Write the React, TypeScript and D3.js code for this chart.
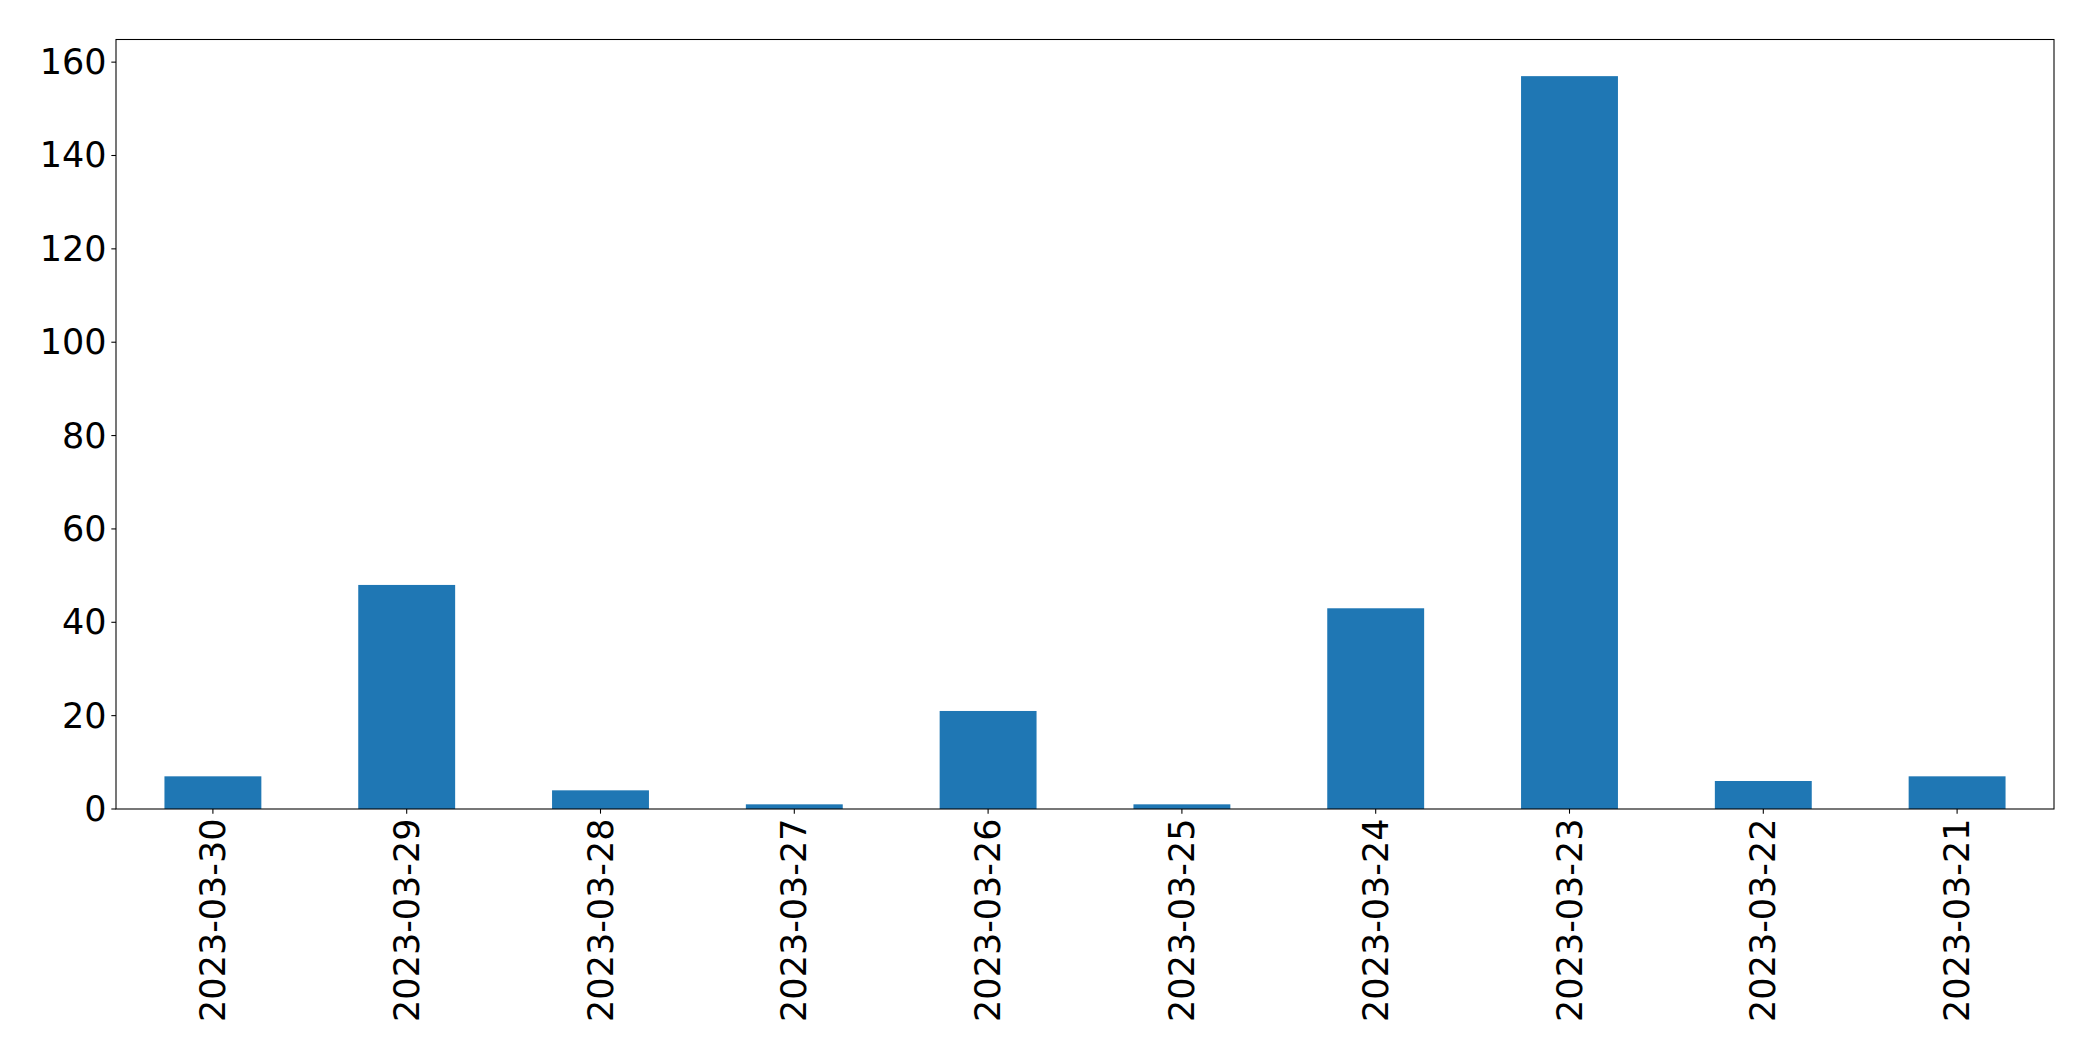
import React from "react";
import * as d3 from "d3";

const categories = ["2023-03-30","2023-03-29","2023-03-28","2023-03-27","2023-03-26","2023-03-25","2023-03-24","2023-03-23","2023-03-22","2023-03-21"];
const values = [7, 48, 4, 1, 21, 1, 43, 157, 6, 7];
const yTicks = [0, 20, 40, 60, 80, 100, 120, 140, 160];

const W = 2093, H = 1061;
const M = { left: 116, right: 2054, top: 39.5, bottom: 809 };
const FONT = "'DejaVu Sans', sans-serif";
const FS = 35;

export default function App() {
  const x = d3.scaleBand<string>().domain(categories).range([M.left, M.right]).paddingInner(0.5).paddingOuter(0.25);
  const y = d3.scaleLinear().domain([0, d3.max(values)! * 1.05]).range([M.bottom, M.top]);
  return (
    <svg width={W} height={H} style={{ position: "absolute", left: 0, top: 0, background: "#fff" }}>
      <rect x={0} y={0} width={W} height={H} fill="#fff" />
      {values.map((v, i) => (
        <rect key={i} x={x(categories[i])} y={y(v)} width={x.bandwidth()} height={y(0) - y(v)} fill="#1f77b4" />
      ))}
      <rect x={M.left} y={M.top} width={M.right - M.left} height={M.bottom - M.top} fill="none" stroke="#000" strokeWidth={1.07} />
      {yTicks.map((t) => (
        <g key={t}>
          <line x1={M.left - 4.67} x2={M.left} y1={y(t)} y2={y(t)} stroke="#000" strokeWidth={1.07} />
          <text x={M.left - 9.5} y={y(t)} textAnchor="end" dominantBaseline="central" fontFamily={FONT} fontSize={FS} fill="#000">{t}</text>
        </g>
      ))}
      {categories.map((c) => {
        const cx = x(c)! + x.bandwidth() / 2;
        return (
          <g key={c}>
            <line x1={cx} x2={cx} y1={M.bottom} y2={M.bottom + 4.67} stroke="#000" strokeWidth={1.07} />
            <text transform={`translate(${cx},${M.bottom + 9.5}) rotate(-90)`} textAnchor="end" dominantBaseline="central" fontFamily={FONT} fontSize={FS} fill="#000">{c}</text>
          </g>
        );
      })}
    </svg>
  );
}
